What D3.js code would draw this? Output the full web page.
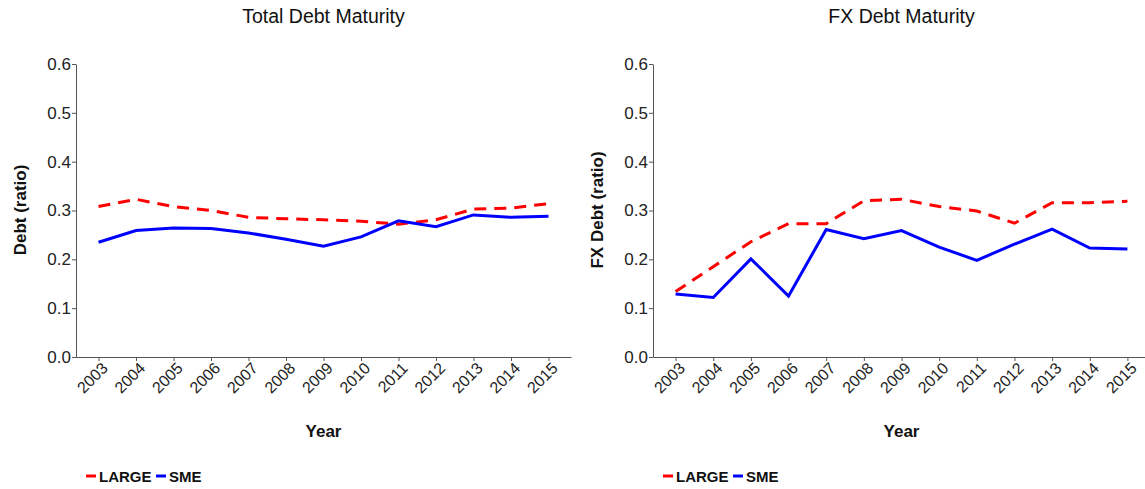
<!DOCTYPE html>
<html>
<head>
<meta charset="utf-8">
<script src="https://cdn.jsdelivr.net/npm/d3@7"></script>
<style>
  body { margin: 0; background: #fff; }
  svg { display: block; font-family: "Liberation Sans", Arial, sans-serif; }
</style>
</head>
<body>
<svg id="chart" width="1145" height="489"></svg>
<script>
const years = [2003, 2004, 2005, 2006, 2007, 2008, 2009, 2010, 2011, 2012, 2013, 2014, 2015]
const yTicks = [0, 0.1, 0.2, 0.3, 0.4, 0.5, 0.6]

// Total debt maturity
const totalLarge = [0.308, 0.323, 0.308, 0.300, 0.286, 0.283, 0.281, 0.278, 0.272, 0.281, 0.303, 0.305, 0.314]
const totalSme = [0.235, 0.259, 0.264, 0.263, 0.254, 0.241, 0.227, 0.246, 0.279, 0.267, 0.291, 0.286, 0.288]

// FX debt maturity
const fxLarge = [0.134, 0.185, 0.236, 0.273, 0.273, 0.320, 0.323, 0.308, 0.299, 0.274, 0.316, 0.316, 0.319]
const fxSme = [0.129, 0.122, 0.201, 0.125, 0.261, 0.242, 0.259, 0.225, 0.198, 0.231, 0.262, 0.223, 0.221]

const seriesNames = ["LARGE", "SME"]
const color = d3.scaleOrdinal().domain(seriesNames).range(["#ff0000", "#0000ff"])
const dash = { LARGE: "12,8", SME: null }

const svg = d3.select("#chart")

function drawPanel(opt) {
  const g = svg.append("g")
  const x = d3.scaleLinear().domain([2002.4, 2015.6]).range([opt.left, opt.right])
  const y = d3.scaleLinear().domain([0, 0.6]).range([357, 64])

  const xAxis = d3.axisBottom(x).tickValues(years).tickFormat(d3.format("d")).tickSize(4).tickSizeOuter(0)
  const yAxis = d3.axisLeft(y).tickValues(yTicks).tickFormat(d3.format(".1f")).tickSize(4).tickSizeOuter(0)

  const gx = g.append("g").attr("transform", "translate(0,357)").call(xAxis)
  gx.selectAll("text")
    .attr("transform", "rotate(-45)")
    .attr("text-anchor", "end")
    .attr("dx", "-0.1em")
    .attr("dy", "0.6em")
    .attr("x", 0).attr("y", 6)
    .style("font-size", "16px").attr("fill", "#222")

  const gy = g.append("g").attr("transform", `translate(${opt.left},0)`).call(yAxis)
  gy.selectAll("text").style("font-size", "17px").attr("fill", "#222").attr("x", -5)

  g.selectAll(".domain, .tick line").attr("stroke", "#555").attr("stroke-width", 1)

  const line = d3.line().x((d, i) => x(years[i])).y((d) => y(d))
  const data = [{ name: "LARGE", values: opt.large }, { name: "SME", values: opt.sme }]
  g.selectAll(".series").data(data).enter().append("path")
    .attr("class", "series")
    .attr("d", (d) => line(d.values))
    .attr("fill", "none")
    .attr("stroke", (d) => color(d.name))
    .attr("stroke-width", 3)
    .attr("stroke-dasharray", (d) => dash[d.name])

  const mid = (opt.left + opt.right) / 2
  g.append("text").attr("x", mid).attr("y", 23).attr("text-anchor", "middle")
    .style("font-size", "19.5px").attr("fill", "#111").text(opt.title)
  g.append("text").attr("x", mid).attr("y", 437).attr("text-anchor", "middle")
    .style("font-size", "17px").style("font-weight", "bold").attr("fill", "#111").text("Year")
  g.append("text").attr("transform", `translate(${opt.left - 50},210) rotate(-90)`)
    .attr("text-anchor", "middle").style("font-size", "17px").style("font-weight", "bold")
    .attr("fill", "#111").text(opt.ytitle)

  // legend
  const lg = g.append("g").attr("transform", `translate(${opt.left + 8},476)`)
  const keyX = [0, 70]
  seriesNames.forEach((name, i) => {
    lg.append("line").attr("x1", keyX[i] + 2).attr("x2", keyX[i] + 12).attr("y1", 0).attr("y2", 0)
      .attr("stroke", color(name)).attr("stroke-width", 3)
    lg.append("text").attr("x", keyX[i] + 15).attr("y", 6)
      .style("font-size", "15px").style("font-weight", "bold").attr("fill", "#111").text(name)
  })
}

drawPanel({ left: 76, right: 571, title: "Total Debt Maturity", ytitle: "Debt (ratio)", large: totalLarge, sme: totalSme })
drawPanel({ left: 653, right: 1150, title: "FX Debt Maturity", ytitle: "FX Debt (ratio)", large: fxLarge, sme: fxSme })
</script>
</body>
</html>
